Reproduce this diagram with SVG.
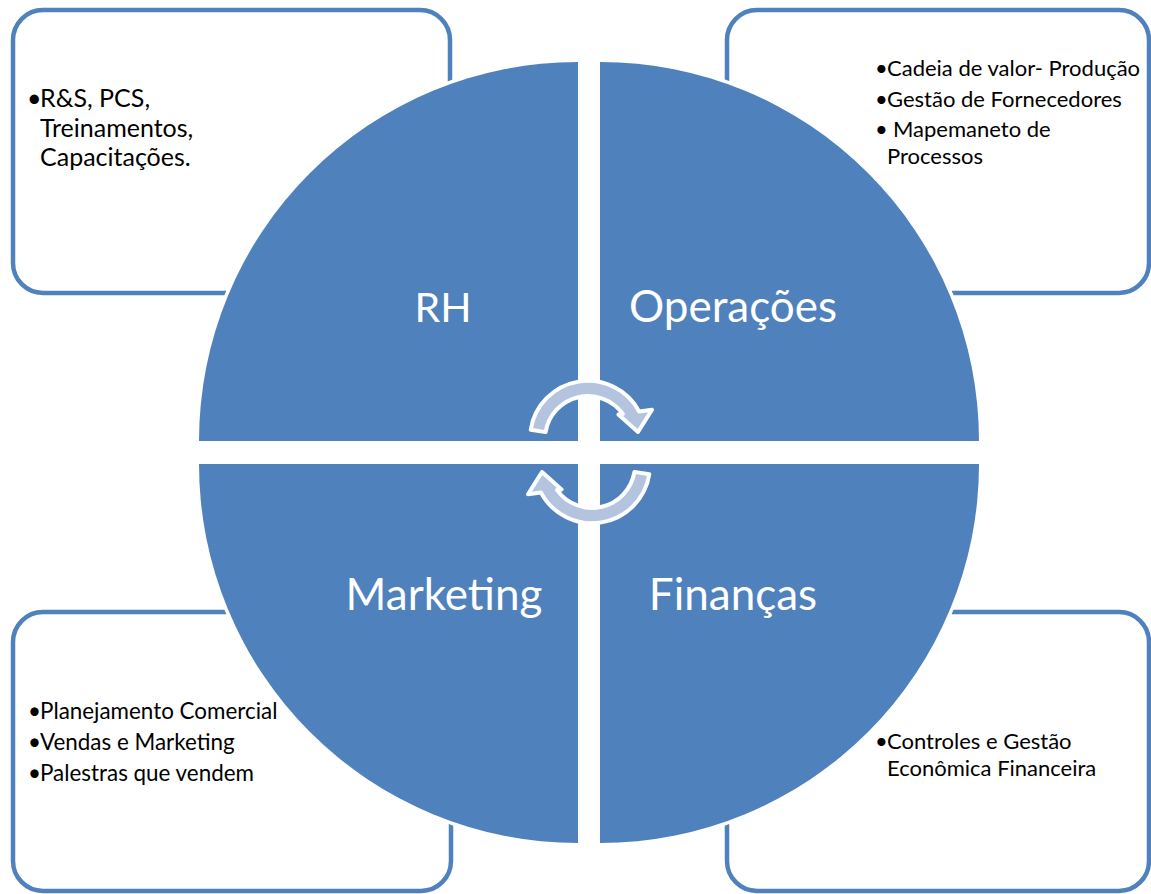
<svg xmlns="http://www.w3.org/2000/svg" width="1151" height="894" viewBox="0 0 1151 894">
<style>
.box{fill:#ffffff;stroke:#4f81bd;stroke-width:4.5}
.quad{fill:#4f81bd;stroke:#ffffff;stroke-width:7;paint-order:stroke}
.big{font-family:Lato,"Liberation Sans",sans-serif;font-size:44px;fill:#ffffff;text-anchor:middle}
.bigrh{font-size:41px}
.txt{font-family:Lato,"Liberation Sans",sans-serif;font-size:22px;fill:#000000}
.rh{font-size:25px}
.mk{font-size:22.4px}
.arr{fill:#b4c4de;stroke:#ffffff;stroke-width:4;stroke-linejoin:round}
</style>
<rect width="1151" height="894" fill="#ffffff"/>
<g id="box-rh">
<rect class="box" x="13" y="10" width="437" height="283" rx="30"/>
<text class="txt rh" x="27" y="107">•</text>
<text class="txt rh" x="40" y="107">R&amp;S, PCS,</text>
<text class="txt rh" x="40" y="137">Treinamentos,</text>
<text class="txt rh" x="40" y="166">Capacitações.</text>
</g>
<g id="box-operacoes">
<rect class="box" x="727" y="10" width="422" height="283" rx="30"/>
<text class="txt" x="875" y="76">•</text>
<text class="txt" x="887" y="76">Cadeia de valor- Produção</text>
<text class="txt" x="875" y="107">•</text>
<text class="txt" x="887" y="107">Gestão de Fornecedores</text>
<text class="txt" x="875" y="137">•</text>
<text class="txt" x="893" y="137">Mapemaneto de</text>
<text class="txt" x="887" y="164">Processos</text>
</g>
<g id="box-marketing">
<rect class="box" x="13" y="612" width="438" height="279" rx="30"/>
<text class="txt mk" x="28" y="719">•</text>
<text class="txt mk" x="40" y="719">Planejamento Comercial</text>
<text class="txt mk" x="28" y="750">•</text>
<text class="txt mk" x="40" y="750">Vendas e Marketing</text>
<text class="txt mk" x="28" y="781">•</text>
<text class="txt mk" x="40" y="781">Palestras que vendem</text>
</g>
<g id="box-financas">
<rect class="box" x="727" y="612" width="422" height="279" rx="30"/>
<text class="txt" x="875" y="749">•</text>
<text class="txt" x="887" y="749">Controles e Gestão</text>
<text class="txt" x="887" y="776">Econômica Financeira</text>
</g>
<g id="quad-rh">
<path class="quad" d="M578,441 L199,441 A379,379 0 0 1 578,62 Z"/>
<text class="big bigrh" x="443" y="322">RH</text>
</g>
<g id="quad-operacoes">
<path class="quad" d="M600,441 L600,62 A379,379 0 0 1 979,441 Z"/>
<text class="big" x="733" y="322">Operações</text>
</g>
<g id="quad-marketing">
<path class="quad" d="M578,464 L578,843 A379,379 0 0 1 199,464 Z"/>
<text class="big" x="444" y="610">Marketing</text>
</g>
<g id="quad-financas">
<path class="quad" d="M600,464 L979,464 A379,379 0 0 1 600,843 Z"/>
<text class="big" x="733" y="610">Finanças</text>
</g>
<g id="connectors">
<path id="arrow-top" class="arr" d="M530.7,429.7 A58,58 0 0 1 639.2,411.6 L652,409.8 L638,432 L618.4,414.6 L622.9,413.9 A43,43 0 0 0 545.6,432.1 Z"/>
<path id="arrow-bottom" class="arr" transform="rotate(180 590 452)" d="M530.7,429.7 A58,58 0 0 1 639.2,411.6 L652,409.8 L638,432 L618.4,414.6 L622.9,413.9 A43,43 0 0 0 545.6,432.1 Z"/>
</g>
</svg>
